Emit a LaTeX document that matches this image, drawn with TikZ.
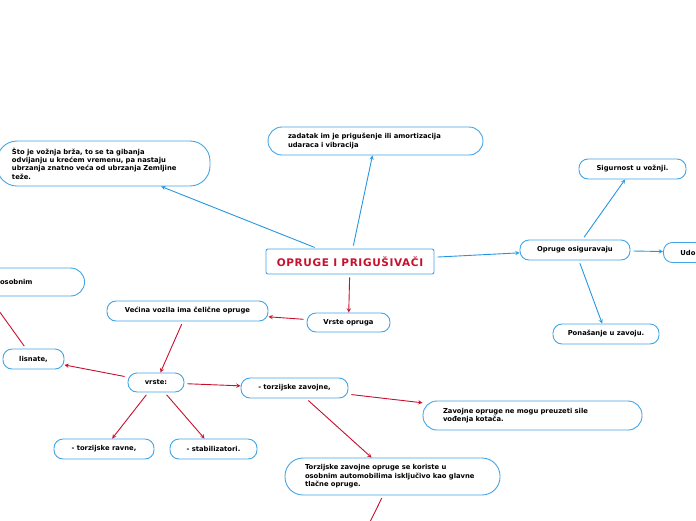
\documentclass[tikz,border=0pt]{standalone}
\usepackage{fontspec}
\setmainfont{DejaVu Sans}
\usetikzlibrary{arrows}
\definecolor{mapblue}{RGB}{38,150,225}
\definecolor{boxblue}{RGB}{65,165,230}
\definecolor{mapred}{RGB}{200,16,46}

\begin{document}
\begin{tikzpicture}[x=1pt,y=-1pt,
  box/.style={draw=boxblue,line width=0.9pt,fill=white,rounded corners=9pt,
    minimum height=20pt,inner sep=0pt,font=\bfseries\fontsize{6.8}{8.4}\selectfont},
  note/.style={box,align=left,inner xsep=20pt},
  bline/.style={draw=mapblue,line width=0.9pt,-stealth,shorten <=3pt},
  rline/.style={draw=mapred,line width=0.9pt,-stealth,shorten <=3pt}]
\clip (0,0) rectangle (696,520);
%-------->centre<--------------
\node[draw=boxblue,line width=0.9pt,rounded corners=2pt,minimum width=168pt,minimum height=25pt,
  inner sep=0pt,text=mapred,font=\bfseries\fontsize{10.5}{12}\selectfont\addfontfeatures{LetterSpace=6}]
  (title) at (350,261.5) {OPRUGE I PRIGU\v{S}IVA\v{C}I};
%-------->blue nodes<--------------
\node[note,rounded corners=20pt,inner xsep=15pt,text width=183pt,minimum height=45pt] (sto) at (103.5,163.5)
  {Što je vožnja brža, to se ta gibanja\\odvijanju u krećem vremenu, pa nastaju\\ubrzanja znatno veća od ubrzanja Zemljine\\teže.};
\node[note,rounded corners=14pt,text width=175pt,minimum height=28pt] (zadatak) at (375.5,141)
  {zadatak im je prigušenje ili amortizacija\\udaraca i vibracija};
\node[box,minimum width=110pt] (osiguravaju) at (575,250) {Opruge osiguravaju};
\node[box,minimum width=107pt] (sigurnost) at (632.5,169) {Sigurnost u vožnji.};
\node[box,anchor=west,align=left,inner xsep=17pt,text width=80pt] (udobnost) at (663,252.5) {Udobnost};
\node[box,minimum width=106pt] (zavoj) at (606,334) {Ponašanje u zavoju.};
%-------->red nodes<--------------
\node[box,minimum width=83pt,minimum height=19pt] (vrsteopruga) at (348.5,322.5) {Vrste opruga};
\node[box,minimum width=161pt] (celicne) at (187.5,311) {Većina vozila ima čelične opruge};
\node[box,anchor=east,rounded corners=14pt,inner xsep=52pt,minimum height=28pt] (osobnim) at (85,282) {osobnim};
\node[box,minimum width=61pt] (lisnate) at (33.5,359) {lisnate,};
\node[box,minimum width=56pt,minimum height=19pt] (vrste) at (156,382.5) {vrste:};
\node[box,minimum width=107pt] (zavojne) at (294.5,388) {- torzijske zavojne,};
\node[box,minimum width=100pt] (ravne) at (104,449) {- torzijske ravne,};
\node[box,minimum width=87pt] (stabil) at (213.5,449) {- stabilizatori.};
\node[note,rounded corners=14pt,text width=179pt,minimum height=29pt] (sile) at (532.5,415.5)
  {Zavojne opruge ne mogu preuzeti sile\\vođenja kotača.};
\node[note,rounded corners=18pt,text width=175pt,minimum height=37pt] (tlacne) at (392.5,476.5)
  {Torzijske zavojne opruge se koriste u\\osobnim automobilima isključivo kao glavne\\tlačne opruge.};
\coordinate (osobnim-end) at (-11,297);
\coordinate (tlacne-end) at (360,542);
%------------->blue arrows<------------------
\draw[bline] (title) -- (sto);
\draw[bline] (title) -- (zadatak);
\draw[bline] (title) -- (osiguravaju);
\draw[bline] (osiguravaju) -- (sigurnost);
\draw[bline] (osiguravaju) -- (udobnost);
\draw[bline] (osiguravaju) -- (zavoj);
%------------->red arrows<------------------
\draw[rline] (title) -- (vrsteopruga);
\draw[rline] (vrsteopruga) -- (celicne);
\draw[rline] (celicne) -- (vrste);
\draw[rline] (vrste) -- (lisnate);
\draw[rline] (lisnate) -- (osobnim-end);
\draw[rline] (vrste) -- (zavojne);
\draw[rline] (vrste) -- (ravne);
\draw[rline] (vrste) -- (stabil);
\draw[rline] (zavojne) -- (sile);
\draw[rline] (zavojne) -- (tlacne);
\draw[rline] (tlacne) -- (tlacne-end);
\end{tikzpicture}
\end{document}
